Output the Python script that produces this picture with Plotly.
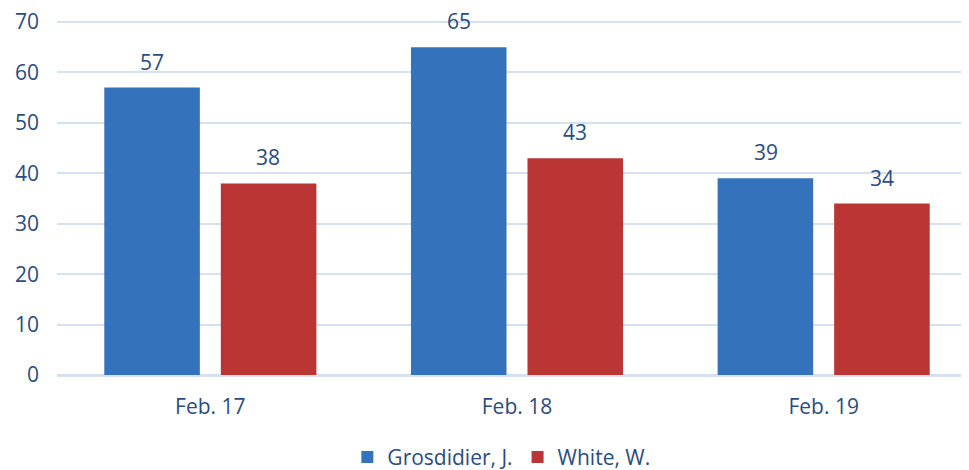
import plotly.graph_objects as go

categories = ["Feb. 17", "Feb. 18", "Feb. 19"]
grosdidier = [57, 65, 39]
white = [38, 43, 34]
series_names = ["Grosdidier, J.", "White, W."]

text_color = "#2B4C7E"
font_family = "Open Sans, Liberation Sans, sans-serif"

fig = go.Figure()
fig.add_trace(go.Bar(x=categories, y=grosdidier, name=series_names[0],
                     marker=dict(color="#3572BC", line=dict(width=0))))
fig.add_trace(go.Bar(x=categories, y=white, name=series_names[1],
                     marker=dict(color="#BA3533", line=dict(width=0))))

for vals, shift in ((grosdidier, -58), (white, 58)):
    for c, v in zip(categories, vals):
        fig.add_annotation(x=c, y=v, text=str(v), showarrow=False,
                           xshift=shift, yshift=26, yanchor="middle",
                           font=dict(size=21, color=text_color, family=font_family))

fig.update_layout(
    width=969, height=462,
    margin=dict(l=49, r=0, t=12, b=95, autoexpand=False),
    plot_bgcolor="white", paper_bgcolor="white",
    barmode="group", bargap=0.24, bargroupgap=0.18,
    font=dict(family=font_family, color=text_color, size=21),
    legend=dict(orientation="h", x=0.483, xanchor="center", y=-0.232, yanchor="middle",
                font=dict(size=21, color=text_color), itemwidth=30,
                traceorder="normal"),
    xaxis=dict(showgrid=False, showline=True, linecolor="#D5E1F0", linewidth=2,
               ticks="", ticklabelstandoff=12,
               tickfont=dict(size=21, color=text_color)),
    yaxis=dict(range=[0, 70.4], tickvals=[0, 10, 20, 30, 40, 50, 60, 70],
               showgrid=True, gridcolor="#D5E1F0", gridwidth=2,
               zeroline=True, zerolinecolor="#D5E1F0", zerolinewidth=2,
               ticks="", ticklabelstandoff=17, ticklabeloverflow="allow",
               tickfont=dict(size=21, color=text_color)),
)

fig.write_html("out.html")
